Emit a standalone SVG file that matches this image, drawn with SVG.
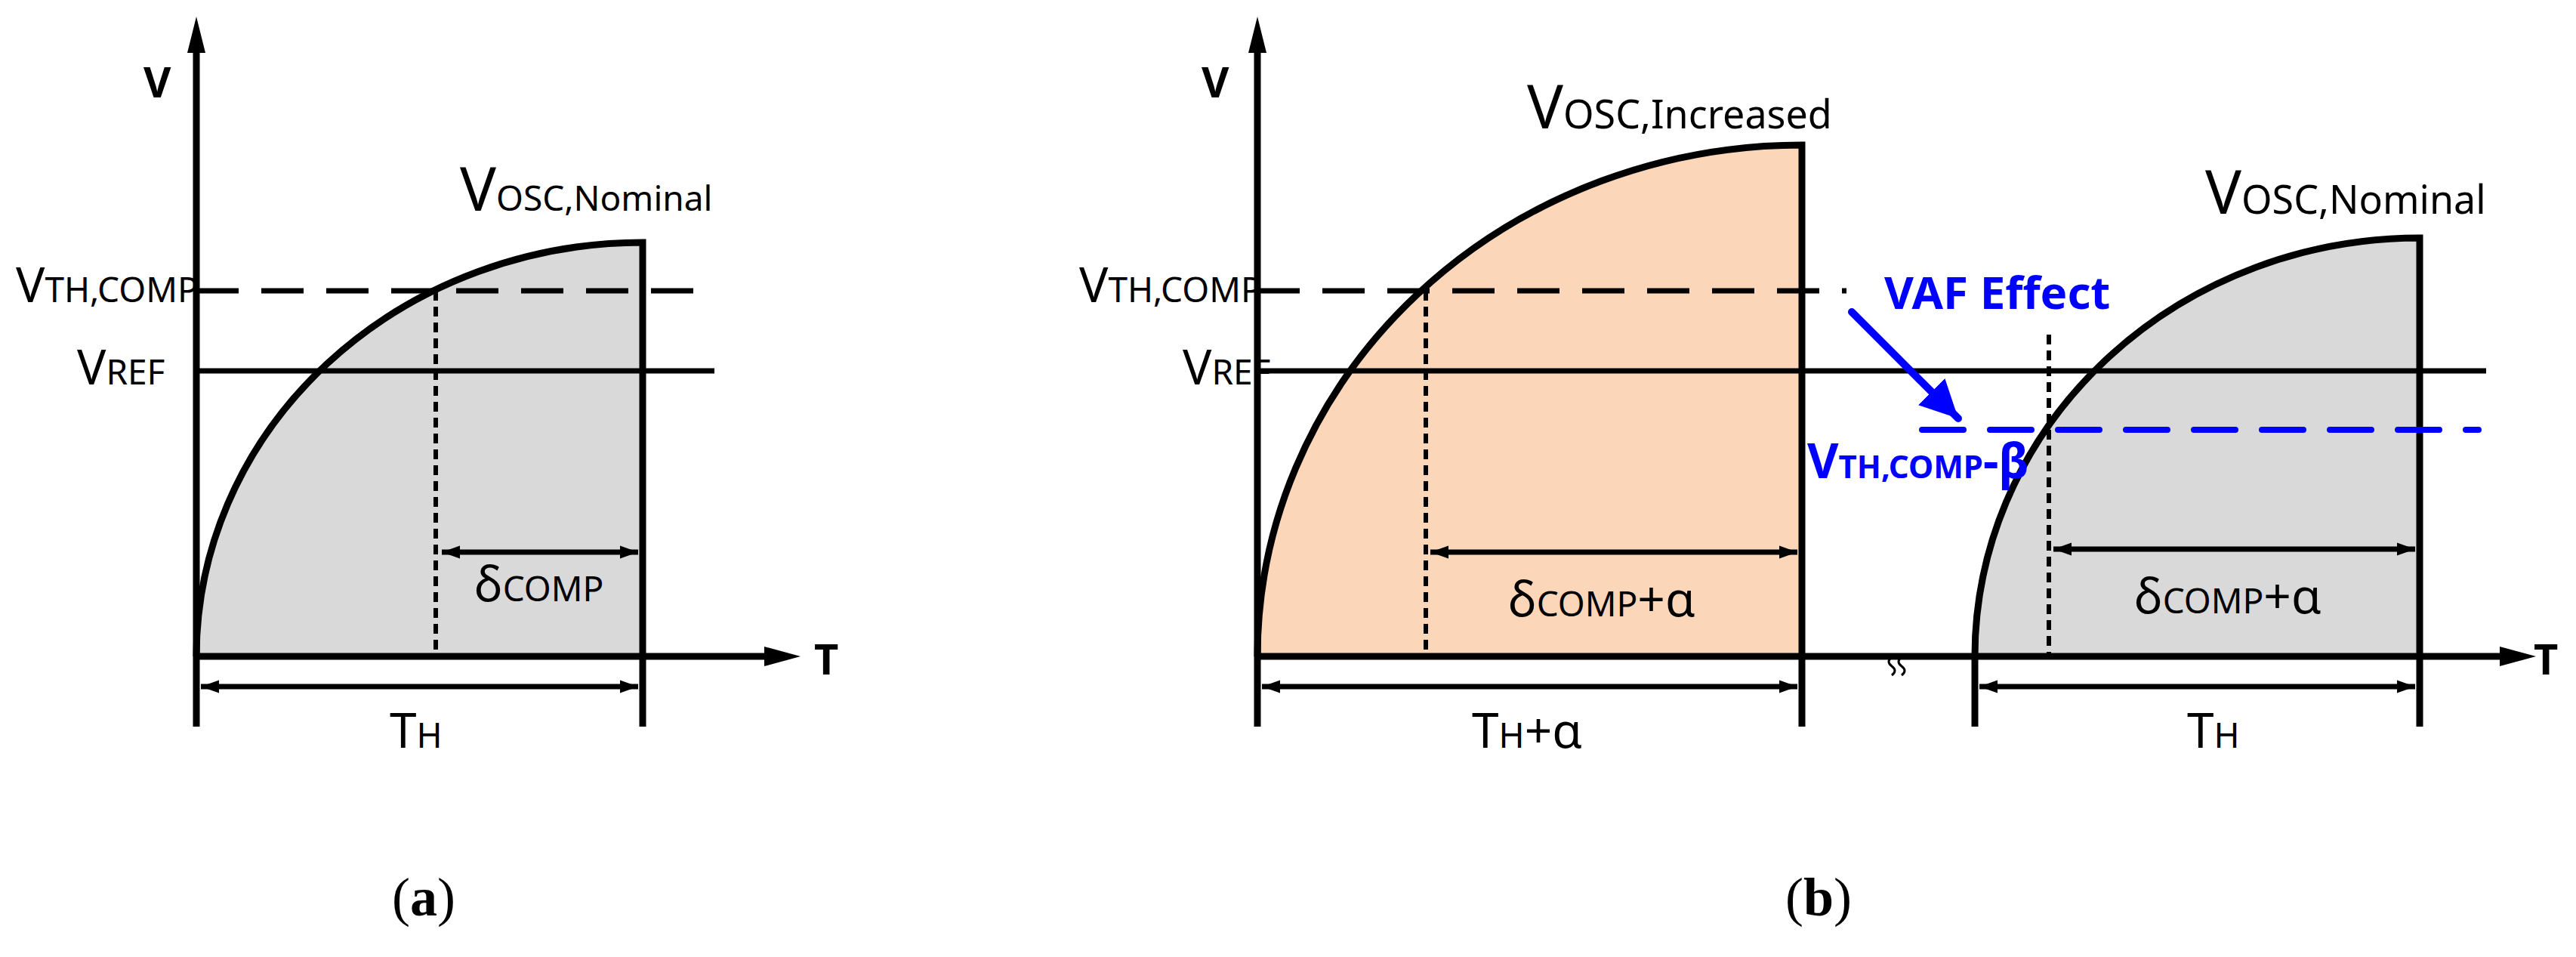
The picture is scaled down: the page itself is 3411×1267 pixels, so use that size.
<svg xmlns="http://www.w3.org/2000/svg" width="3411" height="1267" viewBox="0 0 3411 1267">
<style>
text{font-family:"Noto Sans","Open Sans",sans-serif;fill:#000}
.ax{stroke:#000;stroke-width:9;fill:none}
.th{stroke:#000;stroke-width:7;fill:none}
.dash{stroke:#000;stroke-width:7;stroke-dasharray:56 30;fill:none}
.dot{stroke:#000;stroke-width:6;stroke-dasharray:13 8;fill:none}
.cap{font-family:"Liberation Serif",serif;font-size:72px}
.big{font-size:80px}
.mid{font-size:64px}
.sub{font-size:46px}
.bl{fill:#0000ff}
</style>
<defs>
<marker id="ah" viewBox="0 0 10 10" refX="10" refY="5" markerWidth="5" markerHeight="5" markerUnits="userSpaceOnUse" orient="auto-start-reverse"><path d="M0,0L10,5L0,10z" fill="#000"/></marker>
<marker id="ahs" viewBox="0 0 10 10" refX="10" refY="5" markerWidth="24" markerHeight="24" markerUnits="userSpaceOnUse" orient="auto-start-reverse"><path d="M0,1.5L10,5L0,8.5z" fill="#000"/></marker>
<marker id="ahb" viewBox="0 0 10 10" refX="10" refY="5" markerWidth="50" markerHeight="50" markerUnits="userSpaceOnUse" orient="auto"><path d="M0,0L10,5L0,10z" fill="#0000ff"/></marker>
</defs>
<g id="panel-a">
<path d="M260,869 A591,548 0 0 1 851,321 L851,869 Z" fill="#d9d9d9"/>
<path d="M260,869 A591,548 0 0 1 851,321 L851,962" class="ax"/>
<line x1="260" y1="385" x2="936" y2="385" class="dash"/>
<line x1="260" y1="491" x2="946" y2="491" class="th"/>
<line x1="577" y1="385" x2="577" y2="869" class="dot"/>
<line x1="260" y1="962" x2="260" y2="60" class="ax"/>
<path d="M248,70 L260,22 L272,70Z" fill="#000"/>
<line x1="260" y1="869" x2="1020" y2="869" class="ax"/>
<path d="M1012,856 L1060,869 L1012,882Z" fill="#000"/>
<line x1="585" y1="731" x2="845" y2="731" class="th" marker-start="url(#ahs)" marker-end="url(#ahs)"/>
<line x1="266" y1="909" x2="845" y2="909" class="th" marker-start="url(#ahs)" marker-end="url(#ahs)"/>
<text x="190" y="129" font-size="56" font-weight="bold">V</text>
<text x="1078" y="893" font-size="56" font-weight="bold">T</text>
<text x="609" y="279" class="big">V<tspan class="sub" font-size="52">OSC,Nominal</tspan></text>
<text x="21" y="400" class="mid">V<tspan class="sub">TH,COMP</tspan></text>
<text x="102" y="509" class="mid">V<tspan class="sub">REF</tspan></text>
<text x="628" y="796" class="mid">δ<tspan class="sub">COMP</tspan></text>
<text x="516" y="990" class="mid">T<tspan class="sub">H</tspan></text>
<text x="561" y="1212" class="cap" text-anchor="middle">(<tspan font-weight="bold">a</tspan>)</text>
</g>
<g id="panel-b">
<path d="M1665,869 A721,677 0 0 1 2386,192 L2386,869 Z" fill="#fcd6b8"/>
<path d="M2615,869 A589,554 0 0 1 3204,315 L3204,869 Z" fill="#d9d9d9"/>
<path d="M1665,869 A721,677 0 0 1 2386,192 L2386,962" class="ax"/>
<path d="M2615,962 L2615,869 A589,554 0 0 1 3204,315 L3204,962" class="ax"/>
<line x1="1665" y1="385" x2="2445" y2="385" class="dash"/>
<line x1="1665" y1="491" x2="3292" y2="491" class="th"/>
<line x1="2545" y1="569" x2="3282" y2="569" stroke="#0000ff" stroke-width="8" stroke-linecap="round" stroke-dasharray="55 35"/>
<line x1="1888" y1="385" x2="1888" y2="869" class="dot"/>
<line x1="2713" y1="443" x2="2713" y2="869" class="dot"/>
<line x1="1665" y1="962" x2="1665" y2="60" class="ax"/>
<path d="M1653,70 L1665,22 L1677,70Z" fill="#000"/>
<line x1="1665" y1="869" x2="3320" y2="869" class="ax"/>
<path d="M3310,856 L3358,869 L3310,882Z" fill="#000"/>
<path d="M2505,870 q-8,6 0,12 q8,6 0,12 M2518,870 q-8,6 0,12 q8,6 0,12" stroke="#000" stroke-width="3" fill="none"/>
<line x1="1894" y1="731" x2="2380" y2="731" class="th" marker-start="url(#ahs)" marker-end="url(#ahs)"/>
<line x1="1671" y1="909" x2="2380" y2="909" class="th" marker-start="url(#ahs)" marker-end="url(#ahs)"/>
<line x1="2719" y1="727" x2="3198" y2="727" class="th" marker-start="url(#ahs)" marker-end="url(#ahs)"/>
<line x1="2621" y1="909" x2="3198" y2="909" class="th" marker-start="url(#ahs)" marker-end="url(#ahs)"/>
<line x1="2452" y1="413" x2="2593" y2="554" stroke="#0000ff" stroke-width="10" stroke-linecap="round" marker-end="url(#ahb)"/>
<text x="1591" y="129" font-size="56" font-weight="bold">V</text>
<text x="3355" y="893" font-size="56" font-weight="bold">T</text>
<text x="2022" y="170" class="big">V<tspan font-size="52">OSC,Increased</tspan></text>
<text x="2920" y="283" class="big">V<tspan font-size="52">OSC,Nominal</tspan></text>
<text x="1429" y="400" class="mid">V<tspan class="sub">TH,COMP</tspan></text>
<text x="1566" y="509" class="mid">V<tspan class="sub">REF</tspan></text>
<text x="1997" y="816" class="mid">δ<tspan class="sub">COMP</tspan>+α</text>
<text x="2826" y="812" class="mid">δ<tspan class="sub">COMP</tspan>+α</text>
<text x="1949" y="990" class="mid">T<tspan class="sub">H</tspan>+α</text>
<text x="2896" y="990" class="mid">T<tspan class="sub">H</tspan></text>
<text x="2495" y="409" class="bl" font-size="60" font-weight="bold">VAF Effect</text>
<text x="2393" y="633" class="bl" font-size="64" font-weight="bold">V<tspan font-size="42">TH,COMP</tspan>-β</text>
<text x="2408" y="1212" class="cap" text-anchor="middle">(<tspan font-weight="bold">b</tspan>)</text>
</g>
</svg>
